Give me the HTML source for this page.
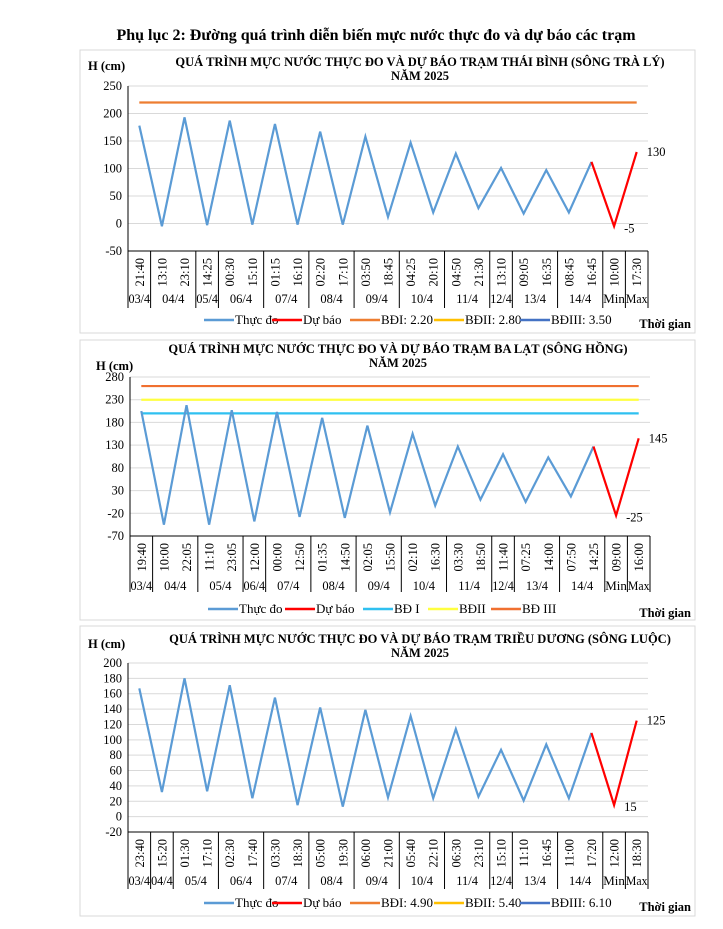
<!DOCTYPE html>
<html><head><meta charset="utf-8">
<style>
body{margin:0;background:#fff;width:723px;height:929px;overflow:hidden;font-family:"Liberation Serif",serif;}
svg{position:absolute;left:0;top:0}
</style></head><body>
<svg id="s" width="723" height="929" xmlns="http://www.w3.org/2000/svg" font-family="Liberation Serif, serif">
<text x="376" y="40" text-anchor="middle" font-size="16" font-weight="bold">Phụ lục 2: Đường quá trình diễn biến mực nước thực đo và dự báo các trạm</text>
</svg>
<script>
const S=document.getElementById('s');let h='';
function chart(c){
 const x0=c.x0,x1=c.x1,n=c.vals.length,w=(x1-x0)/n;
 const Y=v=>c.yt+(c.ymax-v)/(c.ymax-c.ymin)*(c.yb-c.yt);
 const X=i=>x0+w*(i+0.5);
 h+=`<rect x="${c.bx}" y="${c.by}" width="${c.bw}" height="${c.bh}" fill="none" stroke="#d9d9d9"/>`;
 h+=`<text x="${c.tx}" y="${c.ty}" text-anchor="middle" font-size="12.5" font-weight="bold">${c.t1}</text>`;
 h+=`<text x="${c.tx}" y="${c.ty+14}" text-anchor="middle" font-size="12.5" font-weight="bold">NĂM 2025</text>`;
 h+=`<text x="${c.hx}" y="${c.hy}" font-size="12.5" font-weight="bold">H (cm)</text>`;
 for(let v=c.ymin;v<=c.ymax;v+=c.step){
  const y=Y(v);
  if(v>c.ymin)h+=`<line x1="${x0}" x2="${x1}" y1="${y}" y2="${y}" stroke="#d9d9d9"/>`;
  h+=`<text x="${x0-6}" y="${y+4}" text-anchor="end" font-size="12.5">${v}</text>`;
 }
 h+=`<line x1="${x0}" x2="${x0}" y1="${c.yt}" y2="${c.tb}" stroke="#000"/>`;
 h+=`<line x1="${x0}" x2="${x1}" y1="${c.yb}" y2="${c.yb}" stroke="#000"/>`;
 let i=0;
 c.groups.forEach(g=>{
  const a=x0+i*w,b=x0+(i+g[1])*w;
  h+=`<line x1="${b}" x2="${b}" y1="${c.yb}" y2="${c.tb}" stroke="#000"/>`;
  h+=`<text x="${(a+b)/2}" y="${c.dy}" text-anchor="middle" font-size="12.5" ${g[1]==1?'textLength="'+(w-1)+'" lengthAdjust="spacingAndGlyphs"':''}>${g[0]}</text>`;
  i+=g[1];
 });
 c.times.forEach((t,k)=>{const x=X(k)+4.5,y=c.yb+7;
  h+=`<text transform="translate(${x},${y}) rotate(-90)" text-anchor="end" font-size="12.5">${t}</text>`;});
 c.hl.forEach(l=>{h+=`<line x1="${X(0)}" x2="${X(n-1)}" y1="${Y(l[0])}" y2="${Y(l[0])}" stroke="${l[1]}" stroke-width="2.2"/>`;});
 let p=c.vals.slice(0,n-2).map((v,k)=>X(k)+','+Y(v)).join(' ');
 h+=`<polyline points="${p}" fill="none" stroke="#5b9bd5" stroke-width="2.2"/>`;
 p=[n-3,n-2,n-1].map(k=>X(k)+','+Y(c.vals[k])).join(' ');
 h+=`<polyline points="${p}" fill="none" stroke="#ff0000" stroke-width="2.2"/>`;
 h+=`<text x="${X(n-1)+10}" y="${Y(c.vals[n-1])+4}" font-size="12.5">${c.vals[n-1]}</text>`;
 h+=`<text x="${X(n-2)+10}" y="${Y(c.vals[n-2])+6}" font-size="12.5">${c.vals[n-2]}</text>`;
 c.leg.forEach(l=>{h+=`<line x1="${l[0]}" x2="${l[0]+30}" y1="${c.ly}" y2="${c.ly}" stroke="${l[1]}" stroke-width="2.5"/>`;
  h+=`<text x="${l[0]+31}" y="${c.ly+4}" font-size="13">${l[2]}</text>`;});
 h+=`<text x="${c.bx+c.bw-4}" y="${c.ly+8}" text-anchor="end" font-size="12.5" font-weight="bold">Thời gian</text>`;
}
chart({x0:128,x1:648,yt:86,yb:251,tb:308,ymin:-50,ymax:250,step:50,bx:80,by:50,bw:615,bh:283,tx:420,ty:66,hx:88,hy:70,dy:303,ly:320,
 t1:"QUÁ TRÌNH MỰC NƯỚC THỰC ĐO VÀ DỰ BÁO TRẠM  THÁI BÌNH (SÔNG TRÀ LÝ)",
 vals:[178,-5,193,-3,187,-2,181,-2,167,-2,158,12,147,20,127,28,101,18,97,20,112,-5,130],
 times:["21:40","13:10","23:10","14:25","00:30","15:10","01:15","16:10","02:20","17:10","03:50","18:45","04:25","20:10","04:50","21:30","13:10","09:05","16:35","08:45","16:45","10:00","17:30"],
 groups:[["03/4",1],["04/4",2],["05/4",1],["06/4",2],["07/4",2],["08/4",2],["09/4",2],["10/4",2],["11/4",2],["12/4",1],["13/4",2],["14/4",2],["Min",1],["Max",1]],
 hl:[[220,"#ed7d31"]],
 leg:[[204,"#5b9bd5","Thực đo"],[272,"#ff0000","Dự báo"],[350,"#ed7d31","BĐI: 2.20"],[434,"#ffc000","BĐII: 2.80"],[520,"#4472c4","BĐIII: 3.50"]]});
chart({x0:130,x1:650,yt:377,yb:536,tb:592,ymin:-70,ymax:280,step:50,bx:80,by:340,bw:615,bh:280,tx:398,ty:353,hx:96,hy:370,dy:590,ly:609,
 t1:"QUÁ TRÌNH  MỰC NƯỚC THỰC ĐO VÀ  DỰ BÁO TRẠM BA LẠT  (SÔNG HỒNG)",
 vals:[205,-45,218,-45,207,-38,203,-28,190,-30,173,-18,155,-3,127,10,110,5,103,17,127,-25,145],
 times:["19:40","10:00","22:05","11:10","23:05","12:00","00:00","12:50","01:35","14:50","02:05","15:50","02:10","16:30","03:30","18:50","11:40","07:25","14:00","07:50","14:25","09:00","16:00"],
 groups:[["03/4",1],["04/4",2],["05/4",2],["06/4",1],["07/4",2],["08/4",2],["09/4",2],["10/4",2],["11/4",2],["12/4",1],["13/4",2],["14/4",2],["Min",1],["Max",1]],
 hl:[[200,"#2fc0f0"],[230,"#ffff40"],[260,"#f07030"]],
 leg:[[208,"#5b9bd5","Thực đo"],[285,"#ff0000","Dự báo"],[363,"#2fc0f0","BĐ I"],[428,"#ffff40","BĐII"],[491,"#f07030","BĐ III"]]});
chart({x0:128,x1:648,yt:663,yb:832,tb:889,ymin:-20,ymax:200,step:20,bx:80,by:626,bw:615,bh:290,tx:420,ty:643,hx:88,hy:648,dy:885,ly:903,
 t1:"QUÁ TRÌNH MỰC NƯỚC THỰC ĐO VÀ DỰ BÁO TRẠM TRIỀU  DƯƠNG  (SÔNG LUỘC)",
 vals:[167,32,180,33,171,24,155,15,142,13,139,25,131,24,114,26,87,21,94,24,109,15,125],
 times:["23:40","15:20","01:30","17:10","02:30","17:40","03:30","18:30","05:00","19:30","06:00","21:00","05:40","22:10","06:30","23:10","15:10","11:10","16:45","11:00","17:20","12:00","18:30"],
 groups:[["03/4",1],["04/4",1],["05/4",2],["06/4",2],["07/4",2],["08/4",2],["09/4",2],["10/4",2],["11/4",2],["12/4",1],["13/4",2],["14/4",2],["Min",1],["Max",1]],
 hl:[],
 leg:[[204,"#5b9bd5","Thực đo"],[272,"#ff0000","Dự báo"],[350,"#ed7d31","BĐI: 4.90"],[434,"#ffc000","BĐII: 5.40"],[520,"#4472c4","BĐIII: 6.10"]]});
S.insertAdjacentHTML('beforeend',h);
</script>
</body></html>
